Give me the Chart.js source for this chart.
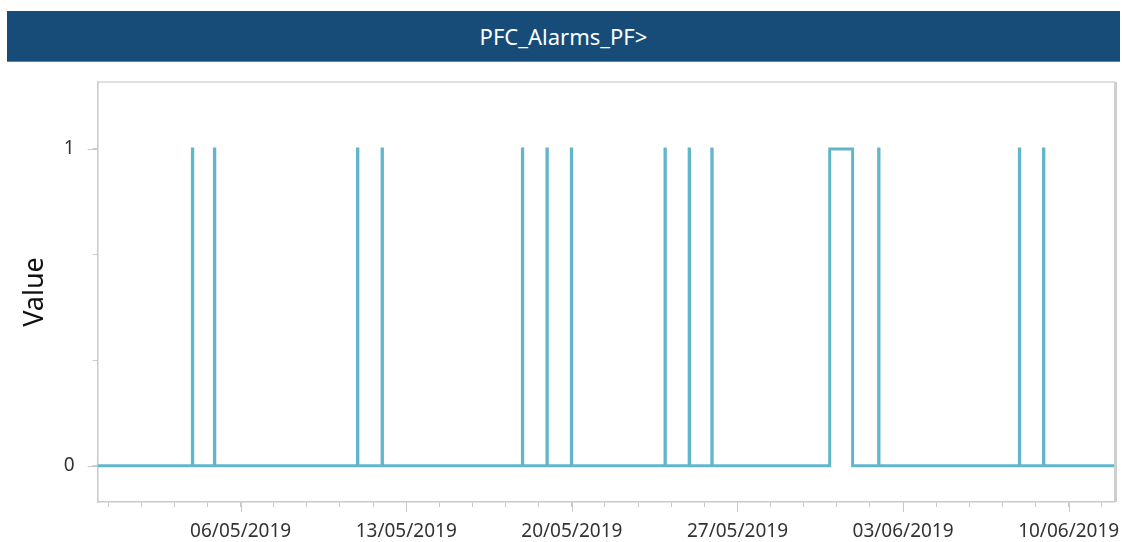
<!DOCTYPE html>
<html>
<head>
<meta charset="utf-8">
<script src="https://cdn.jsdelivr.net/npm/chart.js@4.4.1/dist/chart.umd.min.js"></script>
<style>
  html, body { margin: 0; padding: 0; background: #fff; width: 1122px; height: 542px; overflow: hidden; }
  #title {
    position: absolute; left: 7px; top: 11px; width: 1113px; height: 50px;
    background: #174C79; border-bottom: 1px solid #5A83AA;
    color: #fff; font-family: "Noto Sans", "Open Sans", sans-serif; font-size: 22px;
    display: flex; align-items: center; justify-content: center;
  }
  #wrap { position: absolute; left: 0; top: 62px; width: 1122px; height: 480px; }
</style>
</head>
<body>
<div id="title">PFC_Alarms_PF&gt;</div>
<div id="wrap"><canvas id="c" width="1122" height="480"></canvas></div>
<script>
// ---- data ----
const axisStart = '2019-04-29T23:00';
const axisEnd   = '2019-06-11T23:00';
const alarmOn  = ['2019-05-03T23:05','2019-05-04T21:25','2019-05-10T22:35','2019-05-11T23:30',
                  '2019-05-17T21:50','2019-05-18T22:45','2019-05-19T23:30','2019-05-23T22:30',
                  '2019-05-24T23:00','2019-05-25T22:00','2019-05-30T21:35','2019-06-01T23:15',
                  '2019-06-07T22:00','2019-06-08T22:30'];
const alarmOff = ['2019-05-03T23:25','2019-05-04T21:45','2019-05-10T22:55','2019-05-11T23:50',
                  '2019-05-17T22:10','2019-05-18T23:05','2019-05-19T23:50','2019-05-23T22:50',
                  '2019-05-24T23:20','2019-05-25T22:20','2019-05-31T20:50','2019-06-01T23:35',
                  '2019-06-07T22:20','2019-06-08T22:50'];
const onValue = 1, offValue = 0;
const majorTickDates = ['2019-05-06T00:00','2019-05-13T00:00','2019-05-20T00:00',
                        '2019-05-27T00:00','2019-06-03T00:00','2019-06-10T00:00'];
const yMajorTicks = [0, 1];
const yMinorTicks = [1/3, 2/3];

const t = s => Date.parse(s + ':00Z');
const DAY = 86400000;

const points = [{x: t(axisStart), y: offValue}];
alarmOn.forEach((s, i) => {
  points.push({x: t(s), y: onValue});
  points.push({x: t(alarmOff[i]), y: offValue});
});
points.push({x: t(axisEnd), y: offValue});

const majors = majorTickDates.map(t);
const xTickValues = [];
for (let v = majors[0] - 1.4 * DAY * 4; v <= t(axisEnd); v += 1.4 * DAY) xTickValues.push(Math.round(v));
const isMajor = v => majors.some(m => Math.abs(m - v) < 60000);
const fmt = v => { const d = new Date(v); const p = n => String(n).padStart(2, '0');
  return p(d.getUTCDate()) + '/' + p(d.getUTCMonth() + 1) + '/' + d.getUTCFullYear(); };

const FONT = '"Noto Sans", "Open Sans", sans-serif';
const AXIS_GRAY = '#C9C9C9';

const noPad = s => { s.paddingTop = 0; s.paddingBottom = 0; s.paddingLeft = 0; s.paddingRight = 0; };

const frame = {
  id: 'frame',
  afterDraw(chart) {
    const {ctx, chartArea: a, scales} = chart;
    ctx.save();
    ctx.strokeStyle = '#D6D6D6';
    ctx.lineWidth = 1.5;
    ctx.beginPath();
    ctx.moveTo(a.left, a.top); ctx.lineTo(a.right, a.top);
    ctx.stroke();
    ctx.strokeStyle = '#CFCFCF';
    ctx.lineWidth = 3;
    ctx.beginPath();
    ctx.moveTo(a.right + 0.5, a.top); ctx.lineTo(a.right + 0.5, a.bottom);
    ctx.stroke();
    // longer marks for major ticks
    ctx.strokeStyle = AXIS_GRAY;
    ctx.lineWidth = 1;
    majors.forEach(m => {
      const x = Math.round(scales.x.getPixelForValue(m)) + 0.5;
      ctx.beginPath(); ctx.moveTo(x, a.bottom); ctx.lineTo(x, a.bottom + 10); ctx.stroke();
    });
    yMajorTicks.forEach(v => {
      const y = Math.round(scales.y.getPixelForValue(v)) + 0.5;
      ctx.beginPath(); ctx.moveTo(a.left - 10, y); ctx.lineTo(a.left, y); ctx.stroke();
    });
    ctx.restore();
  }
};

new Chart(document.getElementById('c'), {
  type: 'line',
  data: {
    datasets: [{
      data: points,
      stepped: 'before',
      borderColor: '#62B6CC',
      borderWidth: 3,
      pointRadius: 0,
      fill: false,
      borderJoinStyle: 'miter',
      borderCapStyle: 'butt'
    }]
  },
  options: {
    responsive: false,
    animation: false,
    layout: { padding: { top: 20, right: 7, left: 0, bottom: 0 } },
    plugins: { legend: { display: false }, tooltip: { enabled: false } },
    scales: {
      x: {
        type: 'linear',
        min: t(axisStart),
        max: t(axisEnd),
        afterBuildTicks: s => { s.ticks = xTickValues.map(v => ({value: v})); },
        afterFit: s => { s.height = 40; noPad(s); },
        grid: { drawOnChartArea: false, drawTicks: true, tickLength: 5, color: AXIS_GRAY },
        border: { color: AXIS_GRAY, width: 1.5 },
        ticks: {
          autoSkip: false, maxRotation: 0, minRotation: 0, padding: 13,
          color: '#333', font: { family: FONT, size: 19 },
          callback: v => isMajor(v) ? fmt(v) : ''
        }
      },
      y: {
        type: 'linear',
        min: -0.114,
        max: 1.211,
        afterBuildTicks: s => { s.ticks = [...yMajorTicks, ...yMinorTicks].sort().map(v => ({value: v})); },
        afterFit: s => { s.width = 97.7; noPad(s); },
        grid: { drawOnChartArea: false, drawTicks: true, tickLength: 5, color: AXIS_GRAY },
        border: { color: AXIS_GRAY, width: 1.5 },
        title: { display: true, text: 'Value', color: '#111', font: { family: FONT, size: 27 }, padding: { top: 19, bottom: 0 } },
        ticks: {
          padding: 18, color: '#333', font: { family: FONT, size: 19 },
          callback: v => yMajorTicks.includes(v) ? String(v) : ''
        }
      }
    }
  },
  plugins: [frame]
});
</script>
</body>
</html>
